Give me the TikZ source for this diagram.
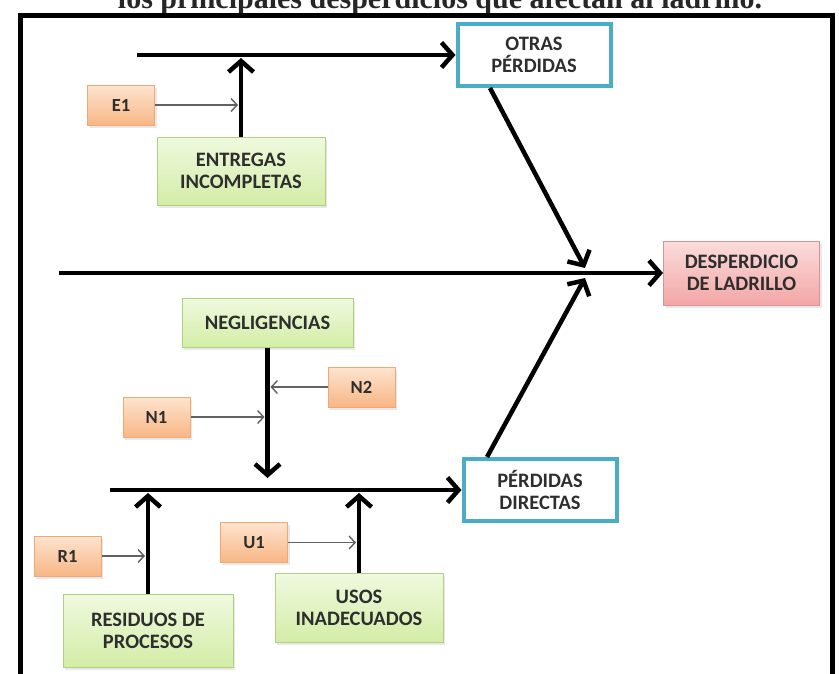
\documentclass[tikz,border=0pt]{standalone}
\usepackage{fontspec}
\setmainfont{Carlito}
\newfontfamily\capfont{Liberation Serif}
\usetikzlibrary{arrows.meta,positioning,calc,shadows}
\definecolor{cBlue} {HTML}{4BACC6}
\definecolor{cOrT}  {HTML}{FDE4CF}
\definecolor{cOrB}  {HTML}{F8B685}
\definecolor{cOrL}  {HTML}{F2A874}
\definecolor{cGrT}  {HTML}{F0F9DF}
\definecolor{cGrB}  {HTML}{D3EDA6}
\definecolor{cGrL}  {HTML}{AFD282}
\definecolor{cPkT}  {HTML}{FBDCDC}
\definecolor{cPkB}  {HTML}{F3A6A6}
\definecolor{cPkL}  {HTML}{D99494}
\definecolor{cTxt}  {HTML}{2E2E2E}
\tikzset{
  box/.style    ={align=center,inner sep=2pt,text=cTxt,
                  font=\bfseries\fontsize{20.5}{22}\selectfont},
  shade/.style  ={drop shadow={opacity=0.18,shadow xshift=2pt,shadow yshift=-2.5pt}},
  cause/.style  ={box,shade,draw=cOrL,top color=cOrT,bottom color=cOrB,line width=1pt,
                  minimum width=67pt,minimum height=40pt,
                  font=\bfseries\fontsize{18.5}{20}\selectfont},
  group/.style  ={box,shade,draw=cGrL,top color=cGrT,bottom color=cGrB,line width=1pt,
                  minimum width=168pt},
  loss/.style   ={box,draw=cBlue,fill=white,line width=4pt,
                  minimum width=153pt,minimum height=62pt},
  result/.style ={box,shade,draw=cPkL,top color=cPkT,bottom color=cPkB,line width=1pt,
                  minimum width=156pt,minimum height=64pt},
  bone/.style   ={-{Straight Barb[length=11pt,width=25pt]},line width=4.5pt},
  twig/.style   ={-{Straight Barb[length=6pt,width=13pt]},draw=black!62,line width=1.4pt},
}

\begin{document}
\begin{tikzpicture}[x=1pt,y=-1pt]
\useasboundingbox (0,0) rectangle (839,673);

% ===== caption (cut by the page edge, as in the source) and frame ========
\begin{scope}
  \clip (0,0) rectangle (839,673);
  \node[font=\capfont\bfseries\fontsize{30}{34}\selectfont,anchor=base,text=black!85]
    (cap) at (440,8) {los principales desperdicios que afectan al ladrillo.};
  \draw[line width=5pt] (20,700) -- (20,15) -- (832,15) -- (832,700);
\end{scope}

% ===== effect and main spine =============================================
\node[result] (desp) at (741.5,273) {DESPERDICIO\\DE LADRILLO};
\coordinate (spine0) at (59,273);
\coordinate (hub) at (585,273);
\draw[bone] (spine0) -- (desp.west);

% ===== upper branch ======================================================
\node[loss] (otras) at (534,55) {OTRAS\\PÉRDIDAS};
\coordinate (top0) at (137,55);
\draw[bone] (top0) -- (otras.west);
\draw[bone] ($(otras.south)+(-44,0)$) -- ($(hub)+(0,-5)$);

\node[group,minimum height=68pt] (entregas) at (241,171) {ENTREGAS\\INCOMPLETAS};
\node[cause] (e1) at (121,105) {E1};
\draw[bone] (entregas.north) -- ($(entregas.north |- top0)+(0,3)$);
\draw[twig] (e1.east) -- ($(e1.east -| entregas.north)+(-3,0)$);

% ===== lower branch ======================================================
\node[loss] (directas) at (540,490) {PÉRDIDAS\\DIRECTAS};
\coordinate (low0) at (110,490);
\draw[bone] (low0) -- (directas.west);
\draw[bone] ($(directas.north)+(-53,0)$) -- ($(hub)+(0,5)$);

\node[group,minimum width=171pt,minimum height=49pt] (neg) at (267.5,322.5) {NEGLIGENCIAS};
\node[cause] (n2) at (361.5,387) {N2};
\node[cause] (n1) at (156.5,417) {N1};
\draw[bone] (neg.south) -- ($(neg.south |- low0)+(0,-12)$);
\draw[twig] (n2.west) -- ($(n2.west -| neg.south)+(3,0)$);
\draw[twig] (n1.east) -- ($(n1.east -| neg.south)+(-3,0)$);

\node[group,minimum width=170pt,minimum height=73pt] (residuos) at (148,630.5) {RESIDUOS DE\\PROCESOS};
\node[cause] (r1) at (67.5,556) {R1};
\draw[bone] (residuos.north) -- ($(residuos.north |- low0)+(0,3)$);
\draw[twig] (r1.east) -- ($(r1.east -| residuos.north)+(-3,0)$);

\node[group,minimum height=69pt] (usos) at (359,607.5) {USOS\\INADECUADOS};
\node[cause] (u1) at (254,542.5) {U1};
\draw[bone] (usos.north) -- ($(usos.north |- low0)+(0,3)$);
\draw[twig] (u1.east) -- ($(u1.east -| usos.north)+(-3,0)$);
\end{tikzpicture}
\end{document}
